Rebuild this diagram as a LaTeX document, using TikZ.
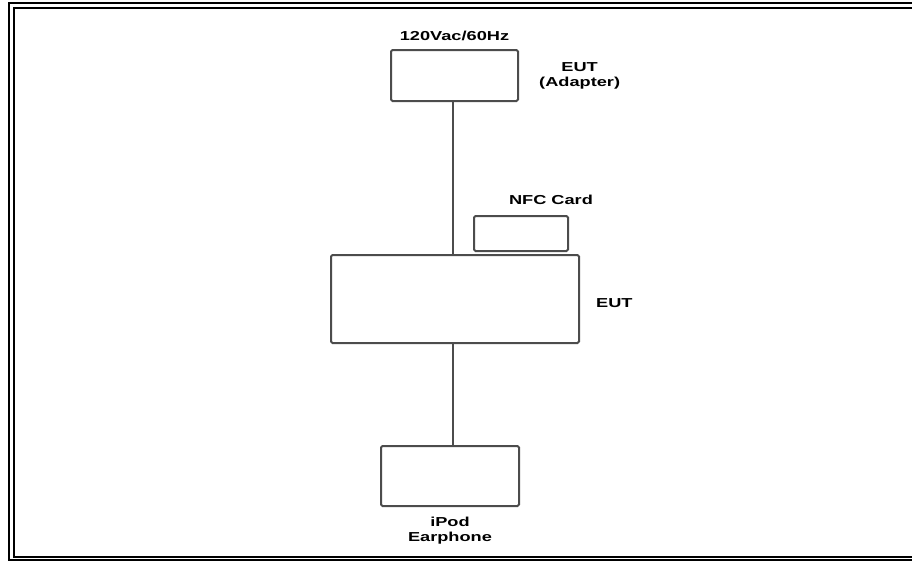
\documentclass[tikz,border=0pt]{standalone}
\usepackage{fontspec}
\usepackage{tikz}
\usetikzlibrary{positioning}
\newfontfamily\etiqfont[FakeStretch=1.4]{Liberation Sans}

\begin{document}
\begin{tikzpicture}[x=1pt, y=-1pt,
    every node/.style={font=\etiqfont\fontsize{13}{15}\selectfont\bfseries},
    caja/.style={draw=black!70, line width=2pt, rounded corners=1.5pt, fill=white, inner sep=0pt},
    etiq/.style={inner sep=0pt, align=center},
    cable/.style={draw=black!70, line width=2pt}]

\clip (0,0) rectangle (912,563);

% Marco
\draw[line width=2.2pt] (9,3) rectangle (922,560);
\draw[line width=1.6pt] (14,8) rectangle (917,557);

% Cajas
\node[caja, minimum width=127pt, minimum height=51pt] (adapter) at (454.5,75.5) {};
\node[caja, minimum width=94pt, minimum height=35pt] (nfc) at (521,233.5) {};
\node[caja, minimum width=248pt, minimum height=88pt] (eut) at (455,299) {};
\node[caja, minimum width=138pt, minimum height=60pt] (ipod) at (450,476) {};

% Conexiones
\draw[cable] (adapter.south -| 453,0) -- (eut.north -| 453,0);
\draw[cable] (eut.south -| 453,0) -- (ipod.north -| 453,0);

% Etiquetas
\node[etiq, above=8pt of adapter] (red) {120Vac/60Hz};
\node[etiq, right=20pt of adapter] (adaptlbl) {EUT\\(Adapter)};
\node[etiq, above=10pt of nfc, xshift=30pt] (nfclbl) {NFC Card};
\node[etiq, right=16pt of eut, yshift=-4pt] (eutlbl) {EUT};
\node[etiq, below=10pt of ipod] (ipodlbl) {iPod\\Earphone};

\end{tikzpicture}
\end{document}
